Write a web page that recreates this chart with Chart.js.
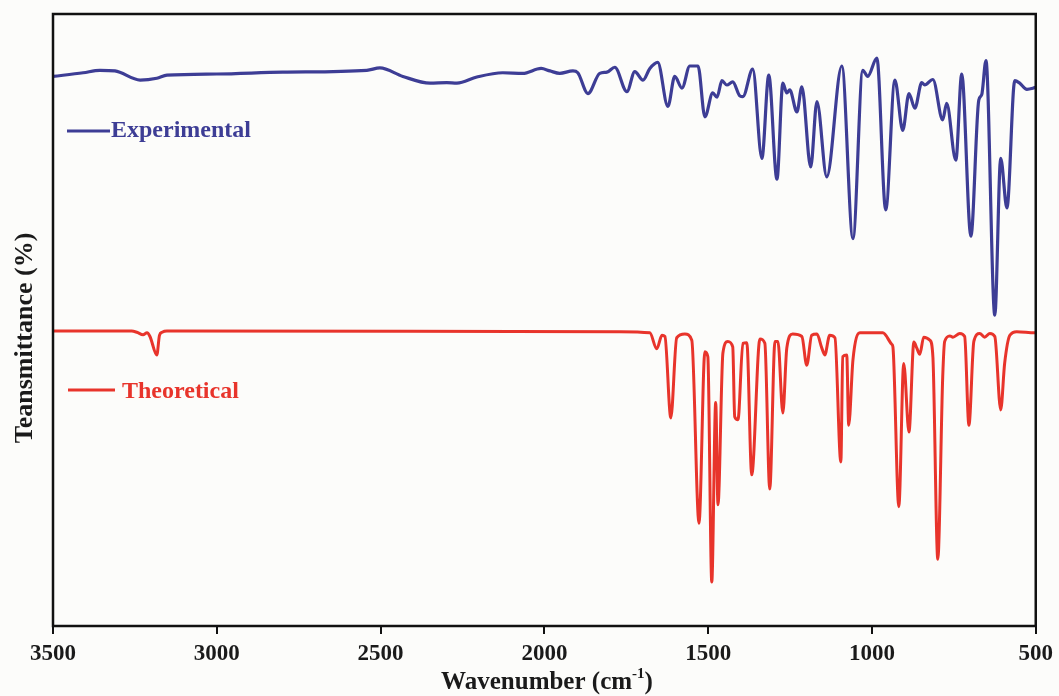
<!DOCTYPE html>
<html>
<head>
<meta charset="utf-8">
<script src="https://cdn.jsdelivr.net/npm/chart.js@4.4.1/dist/chart.umd.min.js"></script>
<style>
  html, body { margin:0; padding:0; background:#fcfcfa; }
  #wrap { width:1059px; height:696px; }
</style>
</head>
<body>
<div id="wrap"><canvas id="c" width="1059" height="696"></canvas></div>
<script>
// Wavenumber axis ticks
const xTicks = [3500, 3000, 2500, 2000, 1500, 1000, 500];

// Experimental spectrum (wavenumber, transmittance, arbitrary units)
const expWn = [3500,3408,3357,3311,3234,3183,3152,3000,2798,2542,2502,2432,2349,2298,2267,2206,2127,2066,2010,1983,
  1953,1913,1898,1867,1831,1809,1785,1748,1724,1699,1678,1654,1623,1602,1580,1556,1531,1510,1486,1473,
  1458,1443,1425,1403,1394,1364,1336,1315,1290,1272,1260,1251,1229,1214,1187,1168,1138,1092,1058,1028,
  1013,985,958,930,906,887,869,848,839,814,784,772,744,726,698,674,665,652,625,607,588,564,549,527,500];
const expT = [89.8,90.4,90.8,90.7,89.2,89.5,90.0,90.2,90.5,90.8,91.2,89.8,88.7,88.8,88.7,89.7,90.4,90.3,91.1,90.7,
  90.3,90.7,90.4,87.0,90.3,90.5,91.3,87.3,90.6,89.2,91.1,92.1,84.9,89.8,87.9,91.5,91.5,83.2,87.1,86.4,
  89.1,88.4,88.9,86.6,86.5,91.0,76.4,90.0,73.0,88.7,87.1,87.6,84.0,88.1,75.0,85.7,73.4,91.5,63.3,90.8,
  89.8,92.8,68.0,89.2,81.0,87.0,84.6,88.8,88.4,89.3,82.7,85.4,76.1,90.2,63.7,85.9,86.8,92.4,50.8,76.4,68.3,89.1,88.7,87.7,88.0];

// Theoretical spectrum (wavenumber, transmittance, arbitrary units)
const theoWn = [3500,3260,3244,3225,3213,3204,3183,3175,3167,3152,1770,1678,1657,1641,1632,1614,1596,1571,1550,1528,
  1510,1501,1489,1477,1470,1455,1440,1425,1419,1409,1394,1382,1367,1342,1327,1312,1296,1287,1272,1260,
  1242,1214,1199,1184,1168,1153,1144,1129,1113,1095,1089,1077,1071,1058,1037,967,939,936,918,903,
  887,872,863,854,842,823,814,799,784,778,762,753,732,717,704,689,671,656,640,625,607,595,579,558,503,500];
const theoT = [48.2,48.2,48.0,47.6,47.9,47.3,44.3,47.5,48.0,48.2,48.1,47.9,45.3,47.5,47.3,34.0,47.1,47.7,46.7,16.8,
  44.8,44.0,7.2,36.5,19.8,44.6,46.5,45.6,34.2,33.7,46.2,46.3,24.7,46.9,46.2,22.4,46.5,46.5,34.8,45.4,
  47.7,47.3,42.6,47.5,47.7,45.4,44.3,47.5,47.1,26.8,44.0,44.3,32.8,43.5,47.9,47.9,46.0,45.6,19.5,42.9,
  31.7,46.4,45.4,44.4,47.2,46.7,44.0,10.9,40.7,46.5,47.4,47.2,47.8,47.3,32.8,46.5,47.8,47.2,47.8,47.3,35.3,42.9,47.5,48.1,47.9,47.9];

const seriesNames = ['Experimental', 'Theoretical'];
const BLUE = '#3d3d95';
const RED = '#e8342b';
const FONT = "'Liberation Serif', 'Times New Roman', serif";

const toPts = (xs, ys) => xs.map((x, i) => ({x: x, y: ys[i]}));

const bgPlugin = {
  id: 'bg',
  beforeDraw(chart) {
    const ctx = chart.ctx;
    ctx.save();
    ctx.fillStyle = '#fcfcfa';
    ctx.fillRect(0, 0, chart.width, chart.height);
    ctx.restore();
  }
};

const decoPlugin = {
  id: 'deco',
  afterDraw(chart) {
    const ctx = chart.ctx;
    const a = chart.chartArea;
    ctx.save();
    // frame
    ctx.strokeStyle = '#111';
    ctx.lineWidth = 2.5;
    ctx.strokeRect(a.left, a.top, a.right - a.left, a.bottom - a.top);

    // legends
    ctx.lineWidth = 3;
    ctx.strokeStyle = BLUE;
    ctx.beginPath(); ctx.moveTo(67, 131); ctx.lineTo(110, 131); ctx.stroke();
    ctx.fillStyle = BLUE;
    ctx.font = 'bold 24px ' + FONT;
    ctx.textAlign = 'left';
    ctx.textBaseline = 'alphabetic';
    ctx.fillText(seriesNames[0], 111, 137);

    ctx.strokeStyle = RED;
    ctx.beginPath(); ctx.moveTo(68, 390); ctx.lineTo(115, 390); ctx.stroke();
    ctx.fillStyle = RED;
    ctx.fillText(seriesNames[1], 122, 398);

    // x title with superscript
    ctx.fillStyle = '#1a1a1a';
    const main = 'Wavenumber (cm';
    const sup = '-1';
    const close = ')';
    ctx.font = 'bold 25px ' + FONT;
    const w1 = ctx.measureText(main).width;
    const w3 = ctx.measureText(close).width;
    ctx.font = 'bold 15px ' + FONT;
    const w2 = ctx.measureText(sup).width;
    const total = w1 + w2 + w3;
    let x0 = 547 - total / 2;
    ctx.font = 'bold 25px ' + FONT;
    ctx.fillText(main, x0, 689);
    ctx.font = 'bold 15px ' + FONT;
    ctx.fillText(sup, x0 + w1, 678);
    ctx.font = 'bold 25px ' + FONT;
    ctx.fillText(close, x0 + w1 + w2, 689);

    // y title
    ctx.translate(25, 338);
    ctx.rotate(-Math.PI / 2);
    ctx.font = 'bold 26px ' + FONT;
    ctx.textAlign = 'center';
    ctx.textBaseline = 'middle';
    ctx.fillText('Teansmittance (%)', 0, 0);
    ctx.restore();
  }
};

new Chart(document.getElementById('c'), {
  type: 'line',
  data: {
    datasets: [
      { label: seriesNames[0], data: toPts(expWn, expT), borderColor: BLUE, borderWidth: 3.2,
        pointRadius: 0, cubicInterpolationMode: 'monotone', fill: false },
      { label: seriesNames[1], data: toPts(theoWn, theoT), borderColor: RED, borderWidth: 3,
        pointRadius: 0, cubicInterpolationMode: 'monotone', fill: false }
    ]
  },
  options: {
    responsive: false,
    animation: false,
    devicePixelRatio: 1,
    layout: { padding: { top: 14, left: 53, right: 23, bottom: 0 } },
    plugins: { legend: { display: false }, tooltip: { enabled: false }, title: { display: false } },
    scales: {
      x: {
        type: 'linear', min: 500, max: 3500, reverse: true,
        afterBuildTicks(scale) { scale.ticks = xTicks.map(v => ({ value: v })); },
        afterFit(scale) { scale.height = 70; },
        ticks: { font: { family: FONT, weight: 'bold', size: 23 }, color: '#1a1a1a', padding: 6,
                 maxRotation: 0, autoSkip: false, callback: v => String(v) },
        grid: { display: true, drawOnChartArea: false, drawTicks: true, tickLength: 8, color: '#111', lineWidth: 2 },
        border: { display: false }
      },
      y: { display: false, min: 0, max: 100 }
    }
  },
  plugins: [bgPlugin, decoPlugin]
});
</script>
</body>
</html>
